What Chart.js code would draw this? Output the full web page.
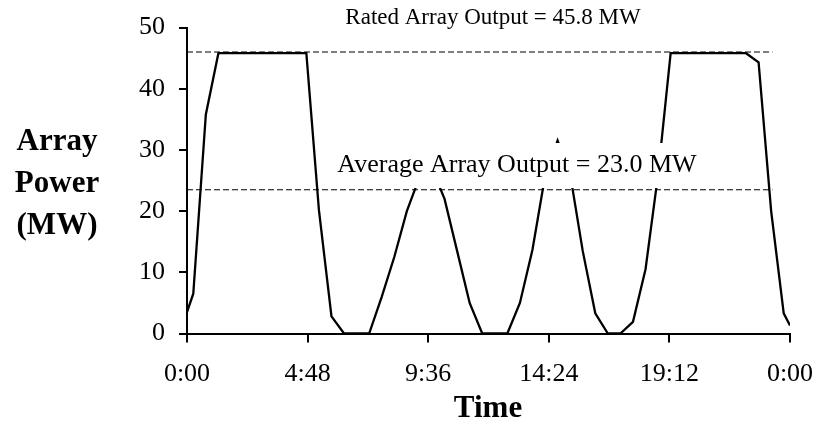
<!DOCTYPE html>
<html>
<head>
<meta charset="utf-8">
<script src="https://cdn.jsdelivr.net/npm/chart.js@4.4.1/dist/chart.umd.min.js"></script>
<style>
  html, body { margin: 0; padding: 0; background: #fff; }
  #wrap { width: 817px; height: 429px; }
</style>
</head>
<body>
<div id="wrap"><canvas id="myChart" width="817" height="429"></canvas></div>
<script>
// time of day in hours, and array output in MW
const hours = [0, 0.25, 0.75, 1.25, 1.75, 2.25, 2.75, 3.25, 3.75, 4.25, 4.75, 5.25, 5.75, 6.25, 6.75,
  7.25, 7.75, 8.25, 8.75, 9.25, 9.75, 10.25, 10.75, 11.25, 11.75, 12.25, 12.75, 13.25, 13.75, 14.25,
  14.75, 15.25, 15.75, 16.25, 16.75, 17.25, 17.75, 18.25, 18.75, 19.25, 19.75, 20.25, 20.75, 21.25,
  21.75, 22.25, 22.75, 23.25, 23.75, 24];
const power = [3.5, 6.5, 35.8, 45.8, 45.8, 45.8, 45.8, 45.8, 45.8, 45.8, 45.8, 20.2, 2.8, 0, 0,
  0, 6, 12.5, 20, 25.5, 27, 22, 13.5, 5, 0, 0, 0, 5, 13.7, 25.7,
  31.5, 26, 13.5, 3.3, 0, 0, 1.9, 10.5, 26, 45.8, 45.8, 45.8, 45.8, 45.8,
  45.8, 45.8, 44.3, 20, 3.3, 1.3];

// dashed reference lines
const refHours = [0, 23.3];
const ratedLine = [46, 46];
const averageLine = [23.5, 23.5];

const tickHours = [0, 4.8, 9.6, 14.4, 19.2, 24];
const tickLabels = ["0:00", "4:48", "9:36", "14:24", "19:12", "0:00"];

const serif = "'Liberation Serif', 'Times New Roman', serif";

const toPoints = (xs, ys) => xs.map((x, i) => ({ x: x, y: ys[i] }));

// white label box over the data, plus the free text
const textPlugin = {
  id: 'textPlugin',
  afterDatasetsDraw(chart) {
    const c = chart.ctx;
    c.save();
    c.fillStyle = '#fff';
    c.fillRect(326, 143, 388, 45);
    c.fillStyle = '#000';
    c.font = "26px " + serif;
    c.textAlign = 'center';
    c.textBaseline = 'alphabetic';
    c.fillText("Average Array Output = 23.0 MW", 517, 172);
    c.restore();
  },
  afterDraw(chart) {
    const c = chart.ctx;
    c.save();
    c.fillStyle = '#000';
    c.textAlign = 'center';
    c.textBaseline = 'alphabetic';
    c.font = "23px " + serif;
    c.fillText("Rated Array Output = 45.8 MW", 493, 24);
    c.font = "bold 31px " + serif;
    c.textBaseline = 'middle';
    c.fillText("Array", 57, 142);
    c.fillText("Power", 57, 184);
    c.fillText("(MW)", 57, 226);
    c.fillText("Time", 488, 409);
    c.restore();
  }
};

const ctx = document.getElementById("myChart");
new Chart(ctx, {
  type: 'scatter',
  data: {
    datasets: [
      {
        data: toPoints(hours, power),
        showLine: true,
        borderColor: '#000',
        borderWidth: 2.3,
        pointRadius: 0,
        tension: 0,
        order: 2
      },
      {
        data: toPoints(refHours, ratedLine),
        showLine: true,
        borderColor: '#000',
        borderWidth: 1.1,
        borderDash: [6, 3],
        pointRadius: 0,
        order: 1
      },
      {
        data: toPoints(refHours, averageLine),
        showLine: true,
        borderColor: '#000',
        borderWidth: 1.1,
        borderDash: [6, 3],
        pointRadius: 0,
        order: 1
      }
    ]
  },
  options: {
    responsive: false,
    animation: false,
    layout: { padding: { left: 0, right: 27, top: 27.5, bottom: 0 } },
    plugins: {
      legend: { display: false },
      tooltip: { enabled: false }
    },
    scales: {
      x: {
        type: 'linear',
        min: 0,
        max: 24,
        afterBuildTicks: (scale) => { scale.ticks = tickHours.map(v => ({ value: v })); },
        afterFit: (scale) => {
          scale.height = 95.5;
          scale.paddingLeft = 0;
          scale.paddingRight = 0;
        },
        ticks: {
          autoSkip: false,
          maxRotation: 0,
          padding: 16,
          color: '#000',
          font: { family: serif, size: 26 },
          callback: (v, i) => tickLabels[i]
        },
        grid: { drawOnChartArea: false, drawTicks: true, tickLength: 9, color: '#000', lineWidth: 2 },
        border: { color: '#000', width: 2 }
      },
      y: {
        min: 0,
        max: 50,
        afterFit: (scale) => {
          scale.width = 187;
          scale.paddingTop = 0;
          scale.paddingBottom = 0;
        },
        ticks: {
          stepSize: 10,
          padding: 14,
          color: '#000',
          font: { family: serif, size: 26 }
        },
        grid: { drawOnChartArea: false, drawTicks: true, tickLength: 8, color: '#000', lineWidth: 2 },
        border: { color: '#000', width: 2 }
      }
    }
  },
  plugins: [textPlugin]
});
</script>
</body>
</html>
